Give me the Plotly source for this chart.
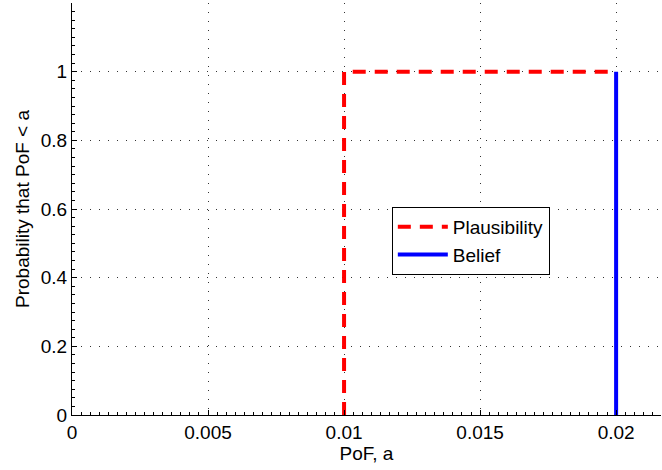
import plotly.graph_objects as go

# Cumulative plausibility and belief curves for the probability of failure
plaus_x = [0.01, 0.01, 0.02]
plaus_y = [0, 1, 1]
belief_x = [0.02, 0.02]
belief_y = [0, 1]

x_ticks = [0, 0.005, 0.01, 0.015, 0.02]
x_labels = ["0", "0.005", "0.01", "0.015", "0.02"]
y_ticks = [0, 0.2, 0.4, 0.6, 0.8, 1]
y_labels = ["0", "0.2", "0.4", "0.6", "0.8", "1"]

fig = go.Figure()
fig.add_trace(go.Scatter(
    x=plaus_x, y=plaus_y, mode="lines", name="Plausibility",
    line=dict(color="#ff0000", width=4, dash="13px,9px"),
))
fig.add_trace(go.Scatter(
    x=belief_x, y=belief_y, mode="lines", name="Belief",
    line=dict(color="#0000ff", width=4),
))

font = "Liberation Sans, Arial, sans-serif"
axis_common = dict(
    showline=True, linecolor="black", linewidth=1, mirror=False,
    ticks="inside", ticklen=5, tickcolor="black",
    showgrid=True, gridcolor="#333333", gridwidth=1, griddash="1px,8px",
    zeroline=False,
    tickfont=dict(family=font, size=19, color="black"),
)

fig.update_xaxes(
    range=[0, 0.02165], tickvals=x_ticks, ticktext=x_labels,
    title=dict(text="PoF, a", font=dict(family=font, size=19, color="black"), standoff=4),
    minor=dict(dtick=0.005 / 15, tick0=0, ticks="inside", ticklen=3,
               tickcolor="black", showgrid=False),
    **axis_common,
)
fig.update_yaxes(
    range=[0, 1.2], tickvals=y_ticks, ticktext=y_labels,
    title=dict(text="Probability that PoF < a", font=dict(family=font, size=19, color="black"), standoff=6),
    minor=dict(dtick=0.025, tick0=0, ticks="inside", ticklen=3,
               tickcolor="black", showgrid=False),
    **axis_common,
)

fig.update_layout(
    width=662, height=470,
    margin=dict(l=72, r=1, t=3, b=55),
    paper_bgcolor="white", plot_bgcolor="white",
    font=dict(family=font, size=19, color="black"),
    legend=dict(
        x=0.543, y=0.505, xanchor="left", yanchor="top",
        bgcolor="white", bordercolor="black", borderwidth=1,
        font=dict(family=font, size=19, color="black"),
        tracegroupgap=0, itemwidth=50,
    ),
)

fig.write_html("out.html")
